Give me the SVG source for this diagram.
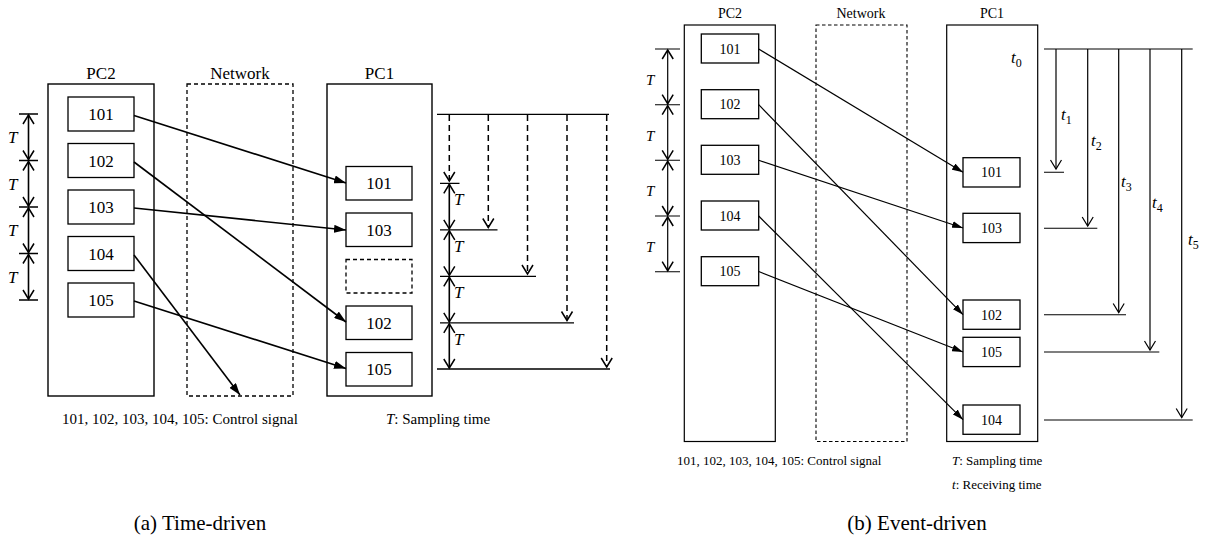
<svg xmlns="http://www.w3.org/2000/svg" width="1210" height="554" viewBox="0 0 1210 554">
  <style>
    text, tspan { font-family: 'Liberation Serif', 'Times New Roman', Tinos, 'Nimbus Roman', 'Nimbus Roman No9 L', FreeSerif, 'Noto Serif', 'DejaVu Serif', Times, serif; fill: #000; }
    .lbl-a { font-size: 17px; text-anchor: middle; }
    .lbl-b { font-size: 14px; text-anchor: middle; }
    .cap-a { font-size: 15px; }
    .cap-b { font-size: 13px; }
    .title { font-size: 21px; text-anchor: middle; }
    .it { font-style: italic; }
    .box { fill: #fff; stroke: #000; stroke-width: 1.3; }
    .frame { fill: none; stroke: #000; stroke-width: 1.4; }
    .dash { fill: none; stroke: #000; stroke-width: 1.3; stroke-dasharray: 4 3; }
    .line { stroke: #000; stroke-width: 1.3; fill: none; }
    .conn-a { stroke: #000; stroke-width: 1.6; fill: none; marker-end: url(#tri); }
    .conn-b { stroke: #000; stroke-width: 1.2; fill: none; marker-end: url(#tri-s); }
    .dbl { stroke: #000; stroke-width: 1.6; fill: none; marker-start: url(#chev); marker-end: url(#chev); }
    .darrow { stroke: #000; stroke-width: 1.5; fill: none; stroke-dasharray: 6 4; marker-end: url(#chev); }
    .tarrow { stroke: #000; stroke-width: 1.2; fill: none; marker-end: url(#chev-s); }
  </style>
  <defs>
    <marker id="tri" viewBox="0 0 12 8" refX="12" refY="4" markerWidth="12" markerHeight="8" markerUnits="userSpaceOnUse" orient="auto">
      <path d="M0,0 L12,4 L0,8 z" fill="#000"/>
    </marker>
    <marker id="tri-s" viewBox="0 0 11 7" refX="11" refY="3.5" markerWidth="11" markerHeight="7" markerUnits="userSpaceOnUse" orient="auto">
      <path d="M0,0 L11,3.5 L0,7 z" fill="#000"/>
    </marker>
    <marker id="chev" viewBox="-1 -1 12 14" refX="9" refY="6" markerWidth="12" markerHeight="14" markerUnits="userSpaceOnUse" orient="auto-start-reverse">
      <path d="M0,0.5 L9,6 L0,11.5" fill="none" stroke="#000" stroke-width="1.5" stroke-dasharray="none"/>
    </marker>
    <marker id="chev-s" viewBox="-1 -1 12 14" refX="9" refY="6" markerWidth="12" markerHeight="14" markerUnits="userSpaceOnUse" orient="auto">
      <path d="M0,0.5 L9,6 L0,11.5" fill="none" stroke="#000" stroke-width="1.2" stroke-dasharray="none"/>
    </marker>
  </defs>

  <!-- ===== (a) Time-driven ===== -->
  <g id="a-pc2">
    <text class="lbl-a" x="101" y="79">PC2</text>
    <rect class="frame" x="48" y="84" width="106" height="312"/>
  </g>
  <g id="a-network">
    <text class="lbl-a" x="240" y="79">Network</text>
    <rect class="dash" x="187" y="84" width="106" height="312"/>
  </g>
  <g id="a-pc1">
    <text class="lbl-a" x="379.5" y="79">PC1</text>
    <rect class="frame" x="327" y="84" width="105" height="312"/>
  </g>

  <g id="a-send">
    <g id="a-s101"><rect class="box" x="68" y="97" width="66" height="34"/><text class="lbl-a" x="101" y="120">101</text></g>
    <g id="a-s102"><rect class="box" x="68" y="143.5" width="66" height="34"/><text class="lbl-a" x="101" y="166.5">102</text></g>
    <g id="a-s103"><rect class="box" x="68" y="190" width="66" height="34"/><text class="lbl-a" x="101" y="213">103</text></g>
    <g id="a-s104"><rect class="box" x="68" y="236.5" width="66" height="34"/><text class="lbl-a" x="101" y="259.5">104</text></g>
    <g id="a-s105"><rect class="box" x="68" y="283" width="66" height="34"/><text class="lbl-a" x="101" y="306">105</text></g>
  </g>

  <g id="a-recv">
    <g id="a-r101"><rect class="box" x="346" y="166.5" width="66" height="33.5"/><text class="lbl-a" x="379" y="189">101</text></g>
    <g id="a-r103"><rect class="box" x="346" y="213" width="66" height="33.5"/><text class="lbl-a" x="379" y="235.5">103</text></g>
    <g id="a-rlost"><rect class="dash" x="346" y="259.5" width="66" height="33.5"/></g>
    <g id="a-r102"><rect class="box" x="346" y="306" width="66" height="33.5"/><text class="lbl-a" x="379" y="328.5">102</text></g>
    <g id="a-r105"><rect class="box" x="346" y="352.5" width="66" height="33.5"/><text class="lbl-a" x="379" y="375">105</text></g>
  </g>

  <!-- sampling period marks beside PC2 -->
  <g id="a-period-left">
    <path class="line" d="M19,114 H38 M19,160.5 H38 M19,207 H38 M19,253.5 H38 M19,300 H38"/>
    <line class="dbl" x1="28.5" y1="115" x2="28.5" y2="159.5"/>
    <line class="dbl" x1="28.5" y1="161.5" x2="28.5" y2="206"/>
    <line class="dbl" x1="28.5" y1="208" x2="28.5" y2="252.5"/>
    <line class="dbl" x1="28.5" y1="254.5" x2="28.5" y2="299"/>
    <text class="it" x="8" y="143" style="font-size:17px">T</text>
    <text class="it" x="8" y="189.5" style="font-size:17px">T</text>
    <text class="it" x="8" y="236" style="font-size:17px">T</text>
    <text class="it" x="8" y="282.5" style="font-size:17px">T</text>
  </g>

  <!-- sampling instants beside PC1 -->
  <g id="a-timeline">
    <line class="line" x1="437" y1="114.3" x2="609" y2="114.3"/>
    <line class="darrow" x1="449.3" y1="115" x2="449.3" y2="181"/>
    <line class="darrow" x1="488.3" y1="115" x2="488.3" y2="227.5"/>
    <line class="darrow" x1="527.5" y1="115" x2="527.5" y2="274"/>
    <line class="darrow" x1="567" y1="115" x2="567" y2="320.5"/>
    <line class="darrow" x1="606.7" y1="115" x2="606.7" y2="367"/>
    <path class="line" d="M440,183.3 H459.5 M440,229.8 H497.5 M440,276.3 H536 M440,322.8 H574 M437,369 H610"/>
    <line class="dbl" x1="449.3" y1="184.3" x2="449.3" y2="228.8"/>
    <line class="dbl" x1="449.3" y1="230.8" x2="449.3" y2="275.3"/>
    <line class="dbl" x1="449.3" y1="277.3" x2="449.3" y2="321.8"/>
    <line class="dbl" x1="449.3" y1="323.8" x2="449.3" y2="368"/>
    <text class="it" x="454" y="205" style="font-size:17px">T</text>
    <text class="it" x="454" y="251.5" style="font-size:17px">T</text>
    <text class="it" x="454" y="298" style="font-size:17px">T</text>
    <text class="it" x="454" y="344.5" style="font-size:17px">T</text>
  </g>

  <g id="a-connectors">
    <line class="conn-a" x1="134" y1="115.5" x2="346" y2="183"/>
    <line class="conn-a" x1="134" y1="162" x2="346" y2="322"/>
    <line class="conn-a" x1="134" y1="208" x2="346" y2="230"/>
    <line class="conn-a" x1="134" y1="255" x2="240" y2="395"/>
    <line class="conn-a" x1="134" y1="301" x2="346" y2="368.5"/>
  </g>

  <g id="a-legend">
    <text class="cap-a" x="62" y="424">101, 102, 103, 104, 105: Control signal</text>
    <text class="cap-a" x="386" y="424"><tspan class="it">T</tspan>: Sampling time</text>
  </g>
  <text class="title" x="200" y="530">(a) Time-driven</text>

  <!-- ===== (b) Event-driven ===== -->
  <g id="b-pc2">
    <text class="lbl-b" x="730" y="18">PC2</text>
    <rect class="frame" x="684.3" y="25" width="91" height="416.5" style="stroke-width:1.2"/>
  </g>
  <g id="b-network">
    <text class="lbl-b" x="861" y="18">Network</text>
    <rect class="dash" x="816" y="25" width="91" height="416.5" style="stroke-width:1.1;stroke-dasharray:3.5 2.5"/>
  </g>
  <g id="b-pc1">
    <text class="lbl-b" x="992" y="18">PC1</text>
    <rect class="frame" x="946.7" y="25" width="91" height="416.5" style="stroke-width:1.2"/>
  </g>

  <g id="b-send">
    <g id="b-s101"><rect class="box" x="701.3" y="34" width="57.4" height="29"/><text class="lbl-b" x="730" y="53.5">101</text></g>
    <g id="b-s102"><rect class="box" x="701.3" y="89.7" width="57.4" height="29"/><text class="lbl-b" x="730" y="109.2">102</text></g>
    <g id="b-s103"><rect class="box" x="701.3" y="145.3" width="57.4" height="29"/><text class="lbl-b" x="730" y="164.8">103</text></g>
    <g id="b-s104"><rect class="box" x="701.3" y="201" width="57.4" height="29"/><text class="lbl-b" x="730" y="220.5">104</text></g>
    <g id="b-s105"><rect class="box" x="701.3" y="256.7" width="57.4" height="29"/><text class="lbl-b" x="730" y="276.2">105</text></g>
  </g>

  <g id="b-recv">
    <g id="b-r101"><rect class="box" x="963" y="157.7" width="57" height="29.3"/><text class="lbl-b" x="991.5" y="177.3">101</text></g>
    <g id="b-r103"><rect class="box" x="963" y="213.3" width="57" height="29.3"/><text class="lbl-b" x="991.5" y="232.9">103</text></g>
    <g id="b-r102"><rect class="box" x="963" y="300" width="57" height="29.3"/><text class="lbl-b" x="991.5" y="319.6">102</text></g>
    <g id="b-r105"><rect class="box" x="963" y="337.3" width="57" height="29.3"/><text class="lbl-b" x="991.5" y="356.9">105</text></g>
    <g id="b-r104"><rect class="box" x="963" y="405" width="57" height="29.3"/><text class="lbl-b" x="991.5" y="424.6">104</text></g>
  </g>

  <g id="b-period-left">
    <path class="line" d="M655,49 H680 M655,104.7 H680 M655,160.3 H680 M655,216 H680 M655,271.7 H680" style="stroke-width:1.1"/>
    <line class="dbl" x1="667.7" y1="50" x2="667.7" y2="103.7" style="stroke-width:1.2"/>
    <line class="dbl" x1="667.7" y1="105.7" x2="667.7" y2="159.3" style="stroke-width:1.2"/>
    <line class="dbl" x1="667.7" y1="161.3" x2="667.7" y2="215" style="stroke-width:1.2"/>
    <line class="dbl" x1="667.7" y1="217" x2="667.7" y2="270.7" style="stroke-width:1.2"/>
    <text class="it" x="646" y="85" style="font-size:15px">T</text>
    <text class="it" x="646" y="140.7" style="font-size:15px">T</text>
    <text class="it" x="646" y="196.3" style="font-size:15px">T</text>
    <text class="it" x="646" y="252" style="font-size:15px">T</text>
  </g>

  <g id="b-timeline">
    <line class="line" x1="1044" y1="49" x2="1192.7" y2="49" style="stroke-width:1.2"/>
    <line class="tarrow" x1="1056" y1="49" x2="1056" y2="169"/>
    <line class="tarrow" x1="1087.7" y1="49" x2="1087.7" y2="226"/>
    <line class="tarrow" x1="1118.7" y1="49" x2="1118.7" y2="312.5"/>
    <line class="tarrow" x1="1150" y1="49" x2="1150" y2="350"/>
    <line class="tarrow" x1="1181.7" y1="49" x2="1181.7" y2="417.5"/>
    <path class="line" d="M1044,172.3 H1064 M1044,228.3 H1097.3 M1044,314.7 H1126 M1044,352 H1159.3 M1044,420 H1192.7" style="stroke-width:1.1"/>
    <text class="it" x="1011" y="63" style="font-size:17px">t<tspan dy="4" style="font-size:12px;font-style:normal">0</tspan></text>
    <text class="it" x="1061" y="120" style="font-size:17px">t<tspan dy="4" style="font-size:12px;font-style:normal">1</tspan></text>
    <text class="it" x="1091" y="146" style="font-size:17px">t<tspan dy="4" style="font-size:12px;font-style:normal">2</tspan></text>
    <text class="it" x="1121" y="187" style="font-size:17px">t<tspan dy="4" style="font-size:12px;font-style:normal">3</tspan></text>
    <text class="it" x="1152" y="208" style="font-size:17px">t<tspan dy="4" style="font-size:12px;font-style:normal">4</tspan></text>
    <text class="it" x="1188" y="245" style="font-size:17px">t<tspan dy="4" style="font-size:12px;font-style:normal">5</tspan></text>
  </g>

  <g id="b-connectors">
    <line class="conn-b" x1="758.7" y1="49" x2="963" y2="172.3"/>
    <line class="conn-b" x1="758.7" y1="104.7" x2="963" y2="314.7"/>
    <line class="conn-b" x1="758.7" y1="160.3" x2="963" y2="228"/>
    <line class="conn-b" x1="758.7" y1="216" x2="963" y2="419.7"/>
    <line class="conn-b" x1="758.7" y1="271.5" x2="963" y2="352"/>
  </g>

  <g id="b-legend">
    <text class="cap-b" x="677" y="465">101, 102, 103, 104, 105: Control signal</text>
    <text class="cap-b" x="952" y="465"><tspan class="it">T</tspan>: Sampling time</text>
    <text class="cap-b" x="952" y="489"><tspan class="it">t</tspan>: Receiving time</text>
  </g>
  <text class="title" x="917" y="530">(b) Event-driven</text>
</svg>
